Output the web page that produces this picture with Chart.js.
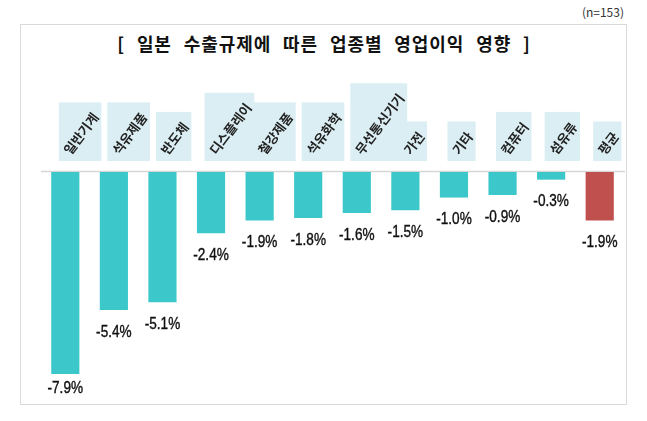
<!DOCTYPE html>
<html>
<head>
<meta charset="utf-8">
<script src="https://cdn.jsdelivr.net/npm/chart.js@4.4.0/dist/chart.umd.min.js"></script>
<style>
  html, body { margin: 0; padding: 0; background: #fff; }
  #wrap { position: relative; width: 647px; height: 421px; overflow: hidden; }
  #frame { position: absolute; left: 20px; top: 24px; width: 605px; height: 379px; border: 1px solid #d9d9d9; }
  #note { position: absolute; right: 23px; top: 3px; font: 12px "Noto Sans CJK KR", "Noto Sans", sans-serif; color: #333; }
  #title { position: absolute; left: 0; width: 648px; top: 30px; text-align: center;
           font: bold 18px "Noto Sans CJK KR", sans-serif; color: #111; letter-spacing: 0.9px; word-spacing: 7px; }
  canvas { position: absolute; left: 0; top: 0; }
</style>
</head>
<body>
<div id="wrap">
  <div id="frame"></div>
  <div id="note">(n=153)</div>
  <div id="title">[ 일본 수출규제에 따른 업종별 영업이익 영향 ]</div>
  <canvas id="chart" width="647" height="421"></canvas>
</div>
<script>
// 업종별 영업이익 영향 (%)
const categories = ['일반기계', '석유제품', '반도체', '디스플레이', '철강제품', '석유화학', '무선통신기기', '가전', '기타', '컴퓨터', '섬유류', '평균'];
const values = [-7.9, -5.4, -5.1, -2.4, -1.9, -1.8, -1.6, -1.5, -1.0, -0.9, -0.3, -1.9];

const teal = '#3cc8cb';
const red = '#c0504d';
const barColors = categories.map(c => c === '평균' ? red : teal);

// zero line across the top of the bars
const zeroLine = {
    id: 'zeroLine',
    beforeDatasetsDraw(chart) {
        const ctx = chart.ctx;
        const y = Math.round(chart.scales.y.getPixelForValue(0)) - 0.5;
        ctx.save();
        ctx.strokeStyle = '#d6d6d6';
        ctx.lineWidth = 1.5;
        ctx.beginPath();
        ctx.moveTo(chart.chartArea.left, y);
        ctx.lineTo(chart.chartArea.right + 1, y);
        ctx.stroke();
        ctx.restore();
    }
};

// rotated category names in light blue boxes above the axis
const categoryBoxes = {
    id: 'categoryBoxes',
    afterDraw(chart) {
        const ctx = chart.ctx;
        const xs = chart.scales.x;
        const ang = 53 * Math.PI / 180;
        const fs = 13;
        const bottom = 161;
        ctx.save();
        ctx.font = 'bold ' + fs + 'px "Noto Sans CJK KR", sans-serif';
        const boxes = categories.map((c, i) => {
            const w = ctx.measureText(c).width;
            const bw = w * Math.cos(ang) + fs * Math.sin(ang) + 3.4;
            const bh = w * Math.sin(ang) + fs * Math.cos(ang) + 12.6;
            const left = xs.getPixelForValue(i) - 6.5;
            return { left, top: bottom - bh, bw, bh };
        });
        ctx.fillStyle = '#dbeef3';
        boxes.forEach(b => ctx.fillRect(b.left, b.top, b.bw, b.bh));
        ctx.fillStyle = '#222';
        ctx.textAlign = 'center';
        ctx.textBaseline = 'middle';
        boxes.forEach((b, i) => {
            ctx.save();
            ctx.translate(b.left + b.bw / 2 + 1, b.top + b.bh / 2 + 2);
            ctx.rotate(-ang);
            ctx.fillText(categories[i], 0, 0);
            ctx.restore();
        });
        ctx.restore();
    }
};

// value labels under each bar (narrow face, squeezed)
const valueLabels = {
    id: 'valueLabels',
    afterDatasetsDraw(chart) {
        const ctx = chart.ctx;
        const meta = chart.getDatasetMeta(0);
        ctx.save();
        ctx.font = '17px "Liberation Sans", sans-serif';
        ctx.fillStyle = '#111';
        ctx.strokeStyle = '#111';
        ctx.lineWidth = 0.4;
        ctx.textAlign = 'center';
        ctx.textBaseline = 'middle';
        meta.data.forEach((bar, i) => {
            const y = Math.min(bar.y + 22, 388);
            const txt = values[i].toFixed(1) + '%';
            ctx.save();
            ctx.translate(bar.x, y);
            ctx.scale(0.8, 1);
            ctx.fillText(txt, 0, 0);
            ctx.strokeText(txt, 0, 0);
            ctx.restore();
        });
        ctx.restore();
    }
};

const ctx = document.getElementById('chart').getContext('2d');
new Chart(ctx, {
    type: 'bar',
    data: {
        labels: categories,
        datasets: [{
            data: values,
            backgroundColor: barColors,
            barPercentage: 0.58,
            categoryPercentage: 1.0
        }]
    },
    options: {
        responsive: false,
        animation: false,
        layout: { padding: { left: 41, right: 23, top: 172, bottom: 19 } },
        plugins: {
            legend: { display: false },
            tooltip: { enabled: false }
        },
        scales: {
            x: { display: false },
            y: { display: false, min: -9, max: 0 }
        }
    },
    plugins: [zeroLine, categoryBoxes, valueLabels]
});
</script>
</body>
</html>
